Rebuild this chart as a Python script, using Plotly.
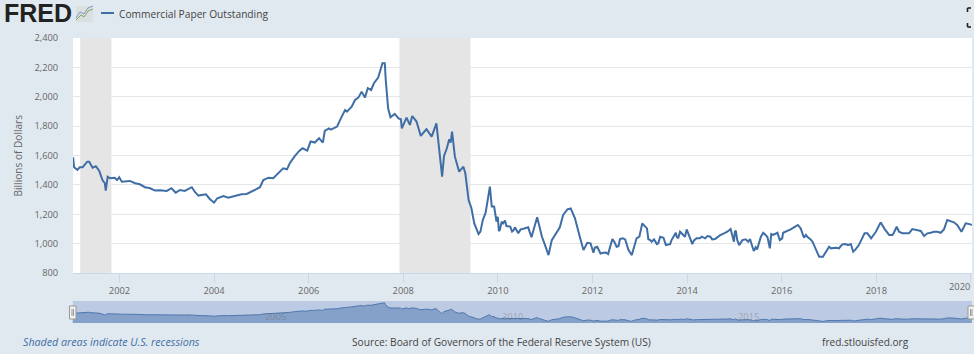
import pandas as pd
import plotly.graph_objects as go

years = [2001.02,2001.04,2001.11,2001.16,2001.22,2001.32,2001.36,2001.43,2001.50,2001.57,2001.64,2001.69,2001.71,2001.75,2001.80,2001.90,2001.95,2001.995,
 2002.05,2002.15,2002.22,2002.33,2002.43,2002.54,2002.65,2002.75,2002.86,2003.0,2003.10,2003.19,2003.28,2003.38,2003.455,2003.53,2003.60,2003.67,2003.74,2003.83,2003.91,2004.0,
 2004.07,2004.20,2004.30,2004.44,2004.58,2004.69,2004.83,2004.97,2005.04,2005.15,2005.25,2005.36,2005.46,2005.54,2005.60,2005.71,2005.80,
 2005.87,2005.97,2006.04,2006.13,2006.22,2006.30,2006.34,2006.43,2006.47,2006.60,2006.68,2006.77,2006.81,2006.91,2006.98,2007.05,2007.12,2007.19,2007.25,2007.32,2007.38,2007.47,2007.56,2007.61,2007.63,2007.68,2007.73,2007.82,2007.90,2007.95,2007.97,
 2008.07,2008.14,2008.19,2008.28,2008.37,2008.49,2008.60,2008.70,2008.76,2008.82,2008.86,2008.92,2008.97,2009.0,2009.03,2009.09,2009.18,2009.27,2009.31,2009.38,2009.44,2009.50,2009.59,2009.63,2009.68,2009.74,2009.83,2009.87,2009.92,2009.97,2010.0,
 2010.04,2010.11,2010.15,2010.26,2010.30,2010.36,2010.43,2010.52,2010.64,2010.71,2010.83,2010.93,2010.995,2011.07,2011.14,2011.31,2011.38,2011.47,2011.54,2011.63,2011.74,2011.81,2011.89,2011.96,2012.02,2012.10,2012.17,2012.33,2012.42,2012.51,2012.58,2012.69,2012.83,2012.93,
 2013.05,2013.15,2013.22,2013.36,2013.43,2013.50,2013.55,2013.64,2013.72,2013.78,2013.85,2013.92,2013.99,2014.11,2014.20,2014.31,2014.49,2014.59,2014.70,2014.78,2014.92,2014.99,2015.03,2015.10,2015.24,2015.33,2015.41,2015.48,2015.56,2015.61,2015.70,2015.75,2015.78,2015.87,2015.96,
 2016.03,2016.19,2016.34,2016.47,2016.54,2016.65,2016.79,2016.87,2017.0,2017.21,2017.28,2017.46,2017.51,2017.63,2017.75,2017.89,2018.09,2018.27,2018.34,2018.43,2018.55,2018.69,2018.76,2018.94,2019.01,2019.22,2019.36,2019.50,2019.64,2019.80,2019.89,2019.99,2020.02]
paper_outstanding = [1588,1520,1502,1520,1520,1558,1558,1517,1527,1497,1433,1411,1361,1456,1445,1449,1433,1452,
 1422,1422,1427,1411,1404,1384,1377,1361,1363,1359,1377,1347,1365,1359,1370,1384,1350,1327,1331,1336,1304,1279,
 1309,1324,1313,1324,1336,1338,1359,1384,1433,1449,1445,1479,1513,1506,1547,1597,1631,
 1649,1633,1695,1688,1717,1688,1767,1785,1776,1797,1853,1910,1899,1933,1978,1994,2035,1994,2058,2046,2092,2130,2228,2228,2115,1922,1860,1883,1853,1847,1785,
 1858,1808,1869,1831,1733,1779,1729,1819,1615,1456,1597,1649,1710,1688,1763,1592,1490,1524,1479,1297,1241,1138,1066,1082,1161,1211,1388,1252,1252,1150,1173,
 1093,1138,1157,1116,1082,1111,1070,1100,1111,1043,1179,1048,991,922,1024,1111,1195,1233,1240,1172,1036,956,1006,1002,938,979,933,929,1031,979,1031,1029,922,1036,
 1138,1104,1024,997,1047,1040,990,997,1058,1047,1081,1058,1097,997,1036,1047,1047,1031,1058,1070,1099,1013,1088,990,1029,1031,950,961,1047,1074,1043,968,1065,1070,1024,
 1074,1097,1127,1040,1047,1013,911,911,979,968,995,997,945,990,1070,1036,1145,1059,1059,1115,1070,1070,1099,1086,1052,1081,1074,1161,1145,1081,1138,1131,1125]

extra_years = [2009.99,2010.02,2010.08,2010.18,2010.33,2010.48,2010.58,2010.88,
 2012.05,2012.23,2012.285,2012.385,2012.46,2012.55,2012.64,2012.76,2012.99,
 2013.18,2013.25,2013.30,2013.39,2013.67,2013.76,2013.81,2013.885,2013.955,2014.06,2014.14,2014.27,2014.38,2014.43,2014.53,2014.62,
 2014.85,2014.96,2015.01,2015.06,2015.17,2015.29,2015.38,2015.45,2015.66,2015.82,2015.91,2016.01,2016.12,2016.26,2016.40,2016.51,2016.61,
 2017.04,2017.14,2017.25,2017.35,2017.40,2017.56,2017.68,2017.81,2017.99,2018.18,2018.37,2018.48,2018.62,2018.85,2019.08,2019.15,2019.29,2019.43,2019.71]
extra_values = [1183,1086,1149,1120,1090,1097,1105,1115,
 974,938,940,997,1013,983,1036,956,1047,
 1029,1013,1029,1002,1024,1074,1036,1070,1047,1036,1020,1036,1036,1052,1029,1040,
 1081,1059,1081,1024,1024,1013,979,975,1059,1059,1074,1036,1086,1111,1104,1059,1029,
 968,972,984,997,990,961,1024,1070,1081,1097,1074,1081,1070,1093,1070,1074,1081,1097,1127]

recession_starts = [2001.17, 2007.92]
recession_ends = [2001.83, 2009.42]
y_ticks = [800,1000,1200,1400,1600,1800,2000,2200,2400]
x_tick_years = [2002,2004,2006,2008,2010,2012,2014,2016,2018,2020]
x_tick_labels = ["2002","2004","2006","2008","2010","2012","2014","2016","2018",""]
navigator_years = [2005,2010,2015]

W, H = 974, 354
BG = "#e1e9f0"
LINE = "#3f6ea6"
def d(t):
    y = int(t)
    a = pd.Timestamp(year=y, month=1, day=1)
    return a + (pd.Timestamp(year=y+1, month=1, day=1) - a) * (t - y)
px = lambda v: v / W
py = lambda v: 1 - v / H

merged = sorted(zip(years + extra_years, paper_outstanding + extra_values))
dates = [d(t) for t, _ in merged]
values = [v for _, v in merged]
fig = go.Figure()
fig.add_trace(go.Scatter(x=dates, y=values, mode="lines", line=dict(color=LINE, width=2), name="Commercial Paper Outstanding", xaxis="x", yaxis="y", showlegend=False, hoverinfo="x+y"))
fig.add_trace(go.Scatter(x=dates, y=values, mode="lines", line=dict(color="#4f78ae", width=1), fill="tozeroy", fillcolor="#85a0c9", xaxis="x2", yaxis="y2", showlegend=False, hoverinfo="skip"))

shapes = []
for s, e in zip(recession_starts, recession_ends):
    shapes.append(dict(type="rect", xref="x", yref="y domain", x0=d(s), x1=d(e), y0=0, y1=1, fillcolor="#e5e5e5", line_width=0, layer="below"))
shapes.append(dict(type="rect", xref="x2 domain", yref="y2 domain", x0=0, x1=1, y0=0, y1=1, fillcolor="#bccbe3", line_width=0, layer="below"))

def paper_rect(x0, y0, x1, y1, fill, line=None, w=1):
    return dict(type="rect", xref="paper", yref="paper", x0=px(x0), x1=px(x1), y0=py(y0), y1=py(y1), fillcolor=fill, line=dict(color=line or fill, width=w if line else 0))
def paper_line(pts, color, w):
    return [dict(type="line", xref="paper", yref="paper", x0=px(a), y0=py(b), x1=px(c), y1=py(e), line=dict(color=color, width=w)) for (a, b), (c, e) in zip(pts, pts[1:])]

# navigator handles
for x0 in (69.5, 968):
    shapes.append(paper_rect(x0, 306, x0 + 6.5, 319, "#f2f2f2", "#999999", 1))
    shapes += paper_line([(x0 + 2.5, 309), (x0 + 2.5, 316)], "#999999", 1)
    shapes += paper_line([(x0 + 4, 309), (x0 + 4, 316)], "#999999", 1)
# logo icon
shapes.append(paper_rect(76, 6, 93, 22, "#dcdfe0"))
shapes += paper_line([(76, 20), (81, 15), (84, 17), (88, 11), (93, 9)], "#7fa86f", 1)
shapes += paper_line([(76, 18), (80, 12), (84, 14), (88, 8), (93, 6)], "#7d9cc4", 1)
# legend sample
shapes += paper_line([(101, 13), (114, 13)], LINE, 2)
# fullscreen icon
shapes += paper_line([(971, 8), (967.5, 8), (967.5, 12)], "#222222", 1.6)
shapes += paper_line([(967.5, 23), (967.5, 27), (971, 27)], "#222222", 1.6)

def note(text, x, y, size, color, anchor="left", style="normal", family="Open Sans", weight=400):
    return dict(text=text, xref="paper", yref="paper", x=px(x), y=py(y), xanchor=anchor, yanchor="middle", showarrow=False,
                font=dict(size=size, color=color, family=family, style=style, weight=weight))

annotations = [
    note("FRED", 2, 13, 25, "#222222", family="Liberation Sans", weight=700),
    note("Commercial Paper Outstanding", 117, 13.5, 10.2, "#444444"),
    note("Shaded areas indicate U.S. recessions", 21, 342, 10.7, "#3f6ea6", style="italic"),
    note("Source: Board of Governors of the Federal Reserve System (US)", 350, 342, 10.2, "#444444"),
    note("fred.stlouisfed.org", 820, 342, 10.1, "#444444"),
    note("2020", 972, 286.5, 9.3, "#666666", anchor="right"),
    dict(text="Billions of Dollars", xref="paper", yref="paper", x=px(17), y=py(155.5), textangle=-90, showarrow=False, xanchor="center", yanchor="middle",
         font=dict(size=10.1, color="#666666", family="Open Sans")),
]
for yr in navigator_years:
    annotations.append(dict(text=str(yr), xref="x2", yref="paper", x=d(yr), y=py(316), xanchor="left", yanchor="middle", xshift=2, showarrow=False,
                            font=dict(size=9.3, color="rgba(110,110,110,0.45)", family="Open Sans")))

x_range = [d(2001.017), d(2020.023)]
fig.update_layout(
    width=W, height=H, margin=dict(l=0, r=0, t=0, b=0, autoexpand=False), autosize=False,
    paper_bgcolor=BG, plot_bgcolor="#ffffff", showlegend=False,
    font=dict(family="Open Sans", size=9.3, color="#666666"),
    shapes=shapes, annotations=annotations,
    xaxis=dict(domain=[px(73), px(972)], range=x_range, anchor="y", type="date",
               tickmode="array", tickvals=[d(y) for y in x_tick_years], ticktext=x_tick_labels,
               showgrid=False, zeroline=False, showline=True, linecolor="#ccd6eb", linewidth=1,
               ticks="outside", ticklen=9, tickcolor="#ccd6eb", tickwidth=1, tickfont=dict(size=9.3, color="#666666")),
    yaxis=dict(domain=[py(273), py(38)], range=[800, 2400], anchor="x", tickmode="array", tickvals=y_ticks, tickformat=",",
               showgrid=True, gridcolor="#e6e6e6", gridwidth=1, zeroline=False, showline=False,
               ticks="outside", ticklen=12, tickcolor="rgba(0,0,0,0)", tickfont=dict(size=9.3, color="#666666")),
    xaxis2=dict(domain=[px(72.5), px(972)], range=x_range, anchor="y2", type="date", showgrid=False, zeroline=False, showticklabels=False, ticks=""),
    yaxis2=dict(domain=[py(323), py(301)], range=[800, 2350], anchor="x2", showgrid=False, zeroline=False, showticklabels=False, ticks=""),
)
fig.write_html("out.html", post_script="document.body.style.margin='0';document.body.style.overflow='hidden';", config=dict(displayModeBar=False))
